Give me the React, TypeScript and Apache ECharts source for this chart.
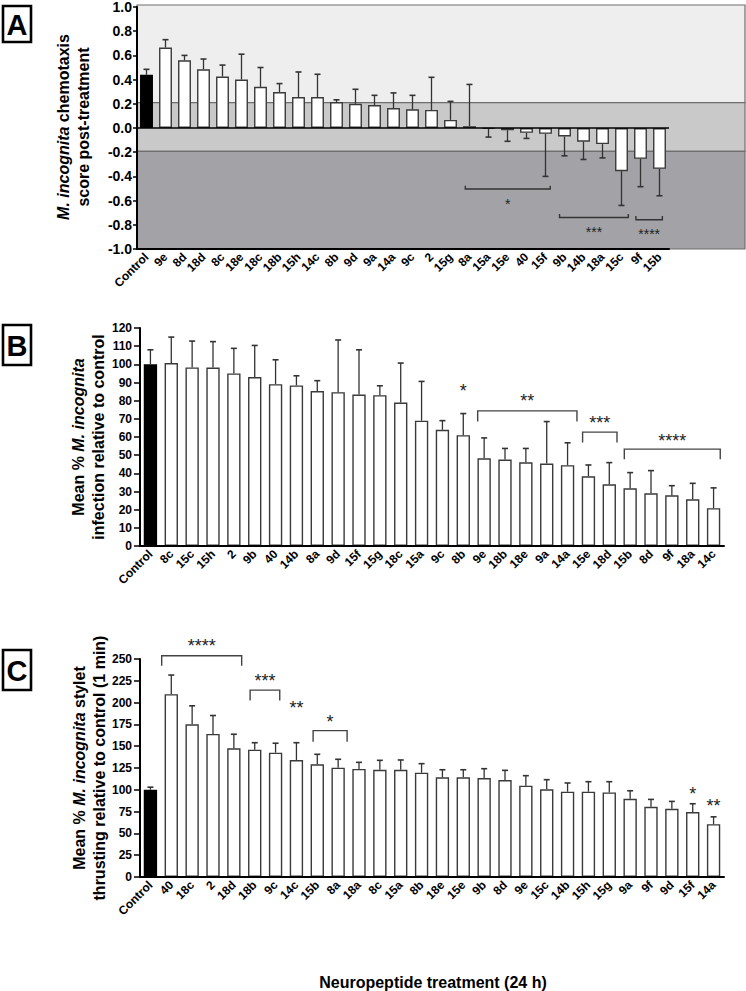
import React, { useEffect, useRef } from 'react';
import * as echarts from 'echarts';

// ---------- Panel A: chemotaxis score ----------
const catsA = ['Control','9e','8d','18d','8c','18e','18c','18b','15h','14c','8b','9d','9a','14a','9c','2','15g','8a','15a','15e','40','15f','9b','14b','18a','15c','9f','15b'];
const valsA = [0.44,0.665,0.56,0.485,0.425,0.40,0.34,0.297,0.256,0.256,0.215,0.20,0.19,0.165,0.154,0.149,0.067,0.015,-0.007,-0.018,-0.04,-0.048,-0.07,-0.113,-0.133,-0.357,-0.255,-0.337];
const errA = [0.045,0.065,0.04,0.085,0.095,0.21,0.16,0.07,0.207,0.188,0.018,0.12,0.08,0.125,0.116,0.27,0.153,0.345,0.068,0.092,0.046,0.352,0.16,0.147,0.114,0.283,0.23,0.223];
const bandTopsA = [1.0, 0.2, -0.2];
const bandBottomsA = [0.2, -0.2, -1.0];
const bandNamesA = ['Attraction', 'Chemotaxic\ninhibition', 'Repulsion'];
// brackets: [from (category pos), to, bracket y, tick end y, label y]
const bracketsA = [
  [16.78, 21.25, -0.504, -0.477, -0.6],
  [21.74, 25.36, -0.74, -0.71, -0.83],
  [25.76, 27.15, -0.758, -0.728, -0.85],
];
const bracketLabelsA = ['*', '***', '****'];

// ---------- Panel B: infection ----------
const catsB = ['Control','8c','15c','15h','2','9b','40','14b','8a','9d','15f','15g','18c','15a','9c','8b','9e','18b','18e','9a','14a','15e','18d','15b','8d','9f','18a','14c'];
const valsB = [100,100.7,98.3,98.2,95,93,89.1,88.4,85.3,84.7,83.4,83,79,69,64,61,48.3,47.6,46.1,45.4,44.5,38.4,34,31.8,29,27.9,25.7,20.8];
const errB = [8,14.3,14.5,14.3,13.8,17.4,13.4,5.3,5.7,28.7,24.6,5.2,21.7,21.6,5,11.9,11.2,6.1,7.6,23.1,12.3,6.2,11.9,8.6,12.5,5.3,8.8,11.2];
const bracketsB = [
  [15, 15, NaN, NaN, 87.5],
  [15.69, 20.45, 74.4, 68.5, 81.8],
  [20.72, 22.37, 62.7, 57, 70],
  [22.72, 27.32, 53.3, 47.8, 60],
];
const bracketLabelsB = ['*', '**', '***', '****'];

// ---------- Panel C: stylet thrusting ----------
const catsC = ['Control','40','18c','2','18d','18b','9c','14c','15b','8a','18a','8c','15a','8b','18e','15e','9b','8d','9e','15c','14b','15h','15g','9a','9f','9d','15f','14a'];
const valsC = [100,209.7,175.2,164.1,147.6,146,142.6,134.2,129.3,125.4,123.9,123,123,119.6,114.3,114.3,113.5,111.2,104.7,100.5,97.8,97.8,97,89.7,80.5,78.2,74.4,60.6];
const errC = [3,21.9,21.1,21.1,16.1,8,10.8,19.8,11.4,9.6,7.6,10.8,11.2,10.4,8.7,8.7,10.7,11.1,11.5,11.1,10,11.5,12.3,9.2,8.5,8.5,9.6,8.4];
const bracketsC = [
  [0.54, 4.375, 253.8, 242.3, 269.5],
  [4.78, 6.2, 214.3, 202.4, 229.3],
  [7, 7, NaN, NaN, 198.6],
  [7.8, 9.43, 167.9, 155.2, 182.8],
  [26, 26, NaN, NaN, 99.7],
  [27, 27, NaN, NaN, 86.2],
];
const bracketLabelsC = ['****', '***', '**', '*', '*', '**'];

const FONT = "'Liberation Sans', Arial, Helvetica, sans-serif";
const bandColors = ['#eeeeee', '#c9c9c9', '#a3a3a7'];

function barData(vals: number[]) {
  return vals.map((v, i) => (i === 0 ? { value: v, itemStyle: { color: '#000', borderColor: '#000' } } : v));
}

function errData(vals: number[], errs: number[]) {
  return vals.map((v, i) => [i, v, errs[i]]);
}

function errorRender(params: any, api: any) {
  const i = api.value(0);
  const v = api.value(1);
  const e = api.value(2);
  const end = v >= 0 ? v + e : v - e;
  const a = api.coord([i, v]);
  const b = api.coord([i, end]);
  return {
    type: 'group',
    children: [
      { type: 'line', shape: { x1: a[0], y1: a[1], x2: b[0], y2: b[1] }, style: { stroke: '#333', lineWidth: 1.3 } },
      { type: 'line', shape: { x1: b[0] - 3, y1: b[1], x2: b[0] + 3, y2: b[1] }, style: { stroke: '#333', lineWidth: 1.6 } },
    ],
  };
}

function bracketData(rows: number[][]) {
  return rows.map((r) => [0, r[4], r[0], r[1], r[2], r[3]]);
}

function makeBracketRender(labels: string[], fontSize: number, color: string) {
  return (params: any, api: any) => {
    const ly = api.value(1);
    const from = api.value(2);
    const to = api.value(3);
    const by = api.value(4);
    const ty = api.value(5);
    const c0 = api.coord([0, ly]);
    const c1 = api.coord([1, ly]);
    const band = c1[0] - c0[0];
    const xa = c0[0] + from * band;
    const xb = c0[0] + to * band;
    const children: any[] = [];
    if (!isNaN(by)) {
      const yb = api.coord([0, by])[1];
      const yt = api.coord([0, ty])[1];
      children.push({
        type: 'polyline',
        shape: { points: [[xa, yt], [xa, yb], [xb, yb], [xb, yt]] },
        style: { stroke: color, lineWidth: 1.4, fill: 'none' },
      });
    }
    children.push({
      type: 'text',
      x: (xa + xb) / 2,
      y: c0[1] + fontSize * 0.22,
      style: {
        text: labels[params.dataIndex],
        align: 'center',
        verticalAlign: 'middle',
        fontSize,
        fontFamily: FONT,
        fill: '#222',
      },
    });
    return { type: 'group', children };
  };
}

function bandRender(params: any, api: any) {
  const top = api.value(1);
  const bottom = api.value(2);
  const p1 = api.coord([0, top]);
  const p2 = api.coord([1, bottom]);
  return {
    type: 'rect',
    shape: { x: p1[0], y: p1[1], width: p2[0] - p1[0], height: p2[1] - p1[1] },
    style: { fill: bandColors[params.dataIndex], stroke: '#6e6e6e', lineWidth: 1.2 },
  };
}

const catAxis = (gridIndex: number, data: string[], z = 5) => ({
  type: 'category',
  gridIndex,
  data,
  z,
  axisLine: { onZero: false, lineStyle: { color: '#000', width: 2 } },
  axisTick: { alignWithLabel: true, length: 5, lineStyle: { color: '#000', width: 1.5 } },
  axisLabel: { interval: 0, rotate: 45, fontSize: 12, fontWeight: 'bold', fontFamily: FONT, color: '#000', margin: 6 },
  splitLine: { show: false },
});

const valAxis = (gridIndex: number, min: number, max: number, interval: number, fmt: (v: number) => string, fontSize: number, margin: number, tickLen: number) => ({
  type: 'value',
  gridIndex,
  min,
  max,
  interval,
  z: 5,
  axisLine: { show: true, lineStyle: { color: '#000', width: 2 } },
  axisTick: { show: true, length: tickLen, lineStyle: { color: '#000', width: 1.5 } },
  axisLabel: { formatter: fmt, fontSize, fontWeight: 'bold', fontFamily: FONT, color: '#000', margin },
  splitLine: { show: false },
});

const titleRich = {
  i: { fontStyle: 'italic', fontWeight: 'bold', fontSize: 16, fontFamily: FONT, fill: '#000', lineHeight: 20 },
  b: { fontWeight: 'bold', fontSize: 16, fontFamily: FONT, fill: '#000', lineHeight: 20 },
};

function letterBox(letter: string, x: number, y: number, w: number, h: number) {
  return [
    { type: 'rect', shape: { x, y, width: w, height: h }, style: { fill: '#fff', stroke: '#000', lineWidth: 2.6 } },
    { type: 'text', x: x + w / 2, y: y + h / 2 + 1, style: { text: letter, align: 'center', verticalAlign: 'middle', fontSize: 29, fontWeight: 'bold', fontFamily: FONT, fill: '#000' } },
  ];
}

export default function App() {
  const ref = useRef<HTMLDivElement>(null);
  useEffect(() => {
    if (!ref.current) return;
    const chart = echarts.init(ref.current, null, { renderer: 'svg' });
    const fmtA = (v: number) => (Math.abs(v) < 1e-9 ? '0.0' : v.toFixed(1));
    const fmtInt = (v: number) => String(Math.round(v));
    const option: any = {
      animation: false,
      backgroundColor: '#fff',
      grid: [
        { left: 137, top: 5, width: 532, height: 244 },
        { left: 137, top: 5, width: 608, height: 244 },
        { left: 140, top: 328, width: 584, height: 218 },
        { left: 140, top: 659, width: 584, height: 218 },
      ],
      xAxis: [
        catAxis(0, catsA),
        { type: 'value', gridIndex: 1, min: 0, max: 1, show: false },
        catAxis(2, catsB),
        catAxis(3, catsC),
      ],
      yAxis: [
        valAxis(0, -1, 1, 0.2, fmtA, 14, 5, 4),
        { type: 'value', gridIndex: 1, min: -1, max: 1, show: false },
        valAxis(2, 0, 120, 10, fmtInt, 12, 8, 6),
        valAxis(3, 0, 250, 25, fmtInt, 12, 8, 6),
      ],
      series: [
        {
          type: 'custom', xAxisIndex: 1, yAxisIndex: 1, z: 1, silent: true,
          data: bandTopsA.map((t, i) => [0, t, bandBottomsA[i]]),
          renderItem: bandRender,
        },
        {
          type: 'bar', xAxisIndex: 0, yAxisIndex: 0, z: 2, barWidth: '68%',
          data: barData(valsA),
          itemStyle: { color: '#fff', borderColor: '#3a3a3a', borderWidth: 1.4 },
          markLine: {
            silent: true, symbol: 'none', label: { show: false },
            lineStyle: { color: '#000', width: 1.6, type: 'solid' },
            data: [{ yAxis: 0 }],
          },
        },
        { type: 'custom', xAxisIndex: 0, yAxisIndex: 0, z: 3, data: errData(valsA, errA), renderItem: errorRender },
        { type: 'custom', xAxisIndex: 0, yAxisIndex: 0, z: 4, clip: false, data: bracketData(bracketsA), renderItem: makeBracketRender(bracketLabelsA, 14, '#333') },

        {
          type: 'bar', xAxisIndex: 2, yAxisIndex: 2, z: 2, barWidth: '64%',
          data: barData(valsB),
          itemStyle: { color: '#fff', borderColor: '#3a3a3a', borderWidth: 1.4 },
        },
        { type: 'custom', xAxisIndex: 2, yAxisIndex: 2, z: 3, data: errData(valsB, errB), renderItem: errorRender },
        { type: 'custom', xAxisIndex: 2, yAxisIndex: 2, z: 4, clip: false, data: bracketData(bracketsB), renderItem: makeBracketRender(bracketLabelsB, 18, '#444') },

        {
          type: 'bar', xAxisIndex: 3, yAxisIndex: 3, z: 2, barWidth: '64%',
          data: barData(valsC),
          itemStyle: { color: '#fff', borderColor: '#3a3a3a', borderWidth: 1.4 },
        },
        { type: 'custom', xAxisIndex: 3, yAxisIndex: 3, z: 3, data: errData(valsC, errC), renderItem: errorRender },
        { type: 'custom', xAxisIndex: 3, yAxisIndex: 3, z: 4, clip: false, data: bracketData(bracketsC), renderItem: makeBracketRender(bracketLabelsC, 18, '#444') },
      ],
      graphic: [
        ...letterBox('A', 3, 6, 28, 36),
        ...letterBox('B', 3, 325, 28, 40),
        ...letterBox('C', 3, 650, 28, 40),
        {
          type: 'text', x: 73, y: 127, rotation: Math.PI / 2,
          style: { text: '{i|M. incognita}{b| chemotaxis}\n{b|score post-treatment}', rich: titleRich, align: 'center', verticalAlign: 'middle' },
        },
        {
          type: 'text', x: 88, y: 437, rotation: Math.PI / 2,
          style: { text: '{b|Mean % }{i|M. incognita}\n{b|infection relative to control}', rich: titleRich, align: 'center', verticalAlign: 'middle' },
        },
        {
          type: 'text', x: 89, y: 768, rotation: Math.PI / 2,
          style: { text: '{b|Mean % }{i|M. incognita}{b| stylet}\n{b|thrusting relative to control (1 min)}', rich: titleRich, align: 'center', verticalAlign: 'middle' },
        },
        { type: 'text', x: 675, y: 88, style: { text: bandNamesA[0], align: 'left', verticalAlign: 'middle', fontSize: 12, fontWeight: 'bold', fontFamily: FONT, fill: '#222' } },
        { type: 'text', x: 674, y: 132, style: { text: bandNamesA[1], align: 'left', verticalAlign: 'middle', fontSize: 12, fontWeight: 'bold', fontFamily: FONT, fill: '#222', lineHeight: 13 } },
        { type: 'text', x: 675, y: 170, style: { text: bandNamesA[2], align: 'left', verticalAlign: 'middle', fontSize: 12, fontWeight: 'bold', fontFamily: FONT, fill: '#222' } },
        { type: 'text', x: 433, y: 982, style: { text: 'Neuropeptide treatment (24 h)', align: 'center', verticalAlign: 'middle', fontSize: 16, fontWeight: 'bold', fontFamily: FONT, fill: '#000' } },
      ],
    };
    chart.setOption(option);
    return () => chart.dispose();
  }, []);
  return <div ref={ref} style={{ position: 'absolute', left: 0, top: 0, width: 746, height: 991, background: '#fff' }} />;
}
